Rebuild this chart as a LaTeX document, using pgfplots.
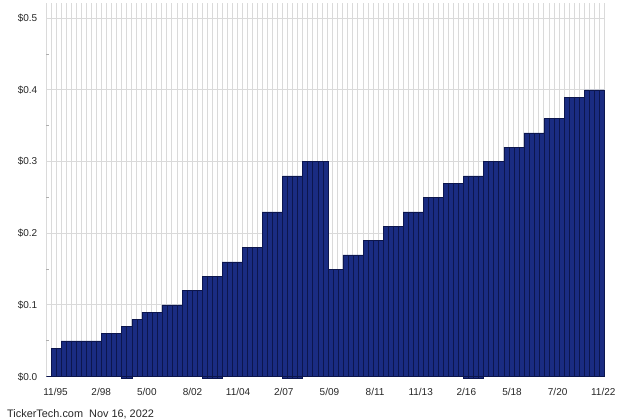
\documentclass[border=0pt]{standalone}
\usepackage{pgfplots}
\pgfplotsset{compat=1.18}
\usepackage{fontspec}
\setmainfont{Liberation Sans}
\definecolor{barfill}{RGB}{26,44,130}
\definecolor{baredge}{RGB}{12,22,78}
\definecolor{gridc}{RGB}{218,218,218}
\begin{document}
\begin{tikzpicture}
\path[use as bounding box] (0pt,0pt) rectangle (640pt,420pt);
\begin{axis}[
  at={(46.3pt,43.3pt)}, anchor=south west,
  scale only axis, width=558pt, height=374pt,
  xmin=-1, xmax=110, ymin=0, ymax=0.5216,
  clip=false,
  axis line style={draw=none},
  xtick={0.84,9.92,19.0,28.08,37.16,46.24,55.32,64.4,73.48,82.56,91.64,100.72,109.8},
  xticklabels={11/95,2/98,5/00,8/02,11/04,2/07,5/09,8/11,11/13,2/16,5/18,7/20,11/22},
  x tick label as interval=false,
  minor xtick={-1,0,...,110},
  xmajorgrids=false, xminorgrids=true,
  major x tick style={draw=none}, minor x tick style={draw=none},
  ytick={0,0.1,0.2,0.3,0.4,0.5},
  minor ytick={0.05,0.15,0.25,0.35,0.45},
  ymajorgrids=true,
  major y tick style={draw=none},
  minor y tick style={draw=gridc!80!black, line width=0.8pt},
  minor tick length=3pt,
  ytick pos=left, tick align=inside,
  grid style={draw=gridc, line width=1pt},
  minor grid style={draw=gridc, line width=1pt},
  /pgf/number format/assume math mode=true,
  yticklabel={\$\pgfmathprintnumber[fixed,fixed zerofill,precision=1]{\tick}},
  yticklabel style={anchor=east, inner sep=0pt, xshift=-8.8pt, font=\fontsize{10}{12}\selectfont, text=black!85},
  xticklabel style={anchor=north, inner sep=0pt, yshift=-11.5pt, font=\fontsize{10}{12}\selectfont, text=black!85},
]
% marks extending below the axis
\addplot[ybar interval, fill=barfill, draw=baredge, line width=0.5pt] coordinates {(14,-0.0025)(15,-0.0025)(16,-0.0025)};
\addplot[ybar interval, fill=barfill, draw=baredge, line width=0.5pt] coordinates {(30,-0.0025)(31,-0.0025)(32,-0.0025)(33,-0.0025)(34,-0.0025)};
\addplot[ybar interval, fill=barfill, draw=baredge, line width=0.5pt] coordinates {(46,-0.0025)(47,-0.0025)(48,-0.0025)(49,-0.0025)(50,-0.0025)};
\addplot[ybar interval, fill=barfill, draw=baredge, line width=0.5pt] coordinates {(82,-0.0025)(83,-0.0025)(84,-0.0025)(85,-0.0025)(86,-0.0025)};
% quarterly dividends
\addplot[ybar interval, fill=barfill, draw=baredge, line width=0.5pt] coordinates {
(-1,0)
(0,0.04)(1,0.04)
(2,0.05)(3,0.05)(4,0.05)(5,0.05)(6,0.05)(7,0.05)(8,0.05)(9,0.05)
(10,0.06)(11,0.06)(12,0.06)(13,0.06)
(14,0.07)(15,0.07)
(16,0.08)(17,0.08)
(18,0.09)(19,0.09)(20,0.09)(21,0.09)
(22,0.10)(23,0.10)(24,0.10)(25,0.10)
(26,0.12)(27,0.12)(28,0.12)(29,0.12)
(30,0.14)(31,0.14)(32,0.14)(33,0.14)
(34,0.16)(35,0.16)(36,0.16)(37,0.16)
(38,0.18)(39,0.18)(40,0.18)(41,0.18)
(42,0.23)(43,0.23)(44,0.23)(45,0.23)
(46,0.28)(47,0.28)(48,0.28)(49,0.28)
(50,0.30)(51,0.30)(52,0.30)(53,0.30)(54,0.30)
(55,0.15)(56,0.15)(57,0.15)
(58,0.17)(59,0.17)(60,0.17)(61,0.17)
(62,0.19)(63,0.19)(64,0.19)(65,0.19)
(66,0.21)(67,0.21)(68,0.21)(69,0.21)
(70,0.23)(71,0.23)(72,0.23)(73,0.23)
(74,0.25)(75,0.25)(76,0.25)(77,0.25)
(78,0.27)(79,0.27)(80,0.27)(81,0.27)
(82,0.28)(83,0.28)(84,0.28)(85,0.28)
(86,0.30)(87,0.30)(88,0.30)(89,0.30)
(90,0.32)(91,0.32)(92,0.32)(93,0.32)
(94,0.34)(95,0.34)(96,0.34)(97,0.34)
(98,0.36)(99,0.36)(100,0.36)(101,0.36)
(102,0.39)(103,0.39)(104,0.39)(105,0.39)
(106,0.40)(107,0.40)(108,0.40)(109,0.40)
(110,0.40)
};
\end{axis}
\node[anchor=base west, inner sep=0pt, font=\fontsize{10.9}{12}\selectfont, text=black!85] at (7pt,2pt) {TickerTech.com\ \ Nov 16, 2022};
\end{tikzpicture}
\end{document}
